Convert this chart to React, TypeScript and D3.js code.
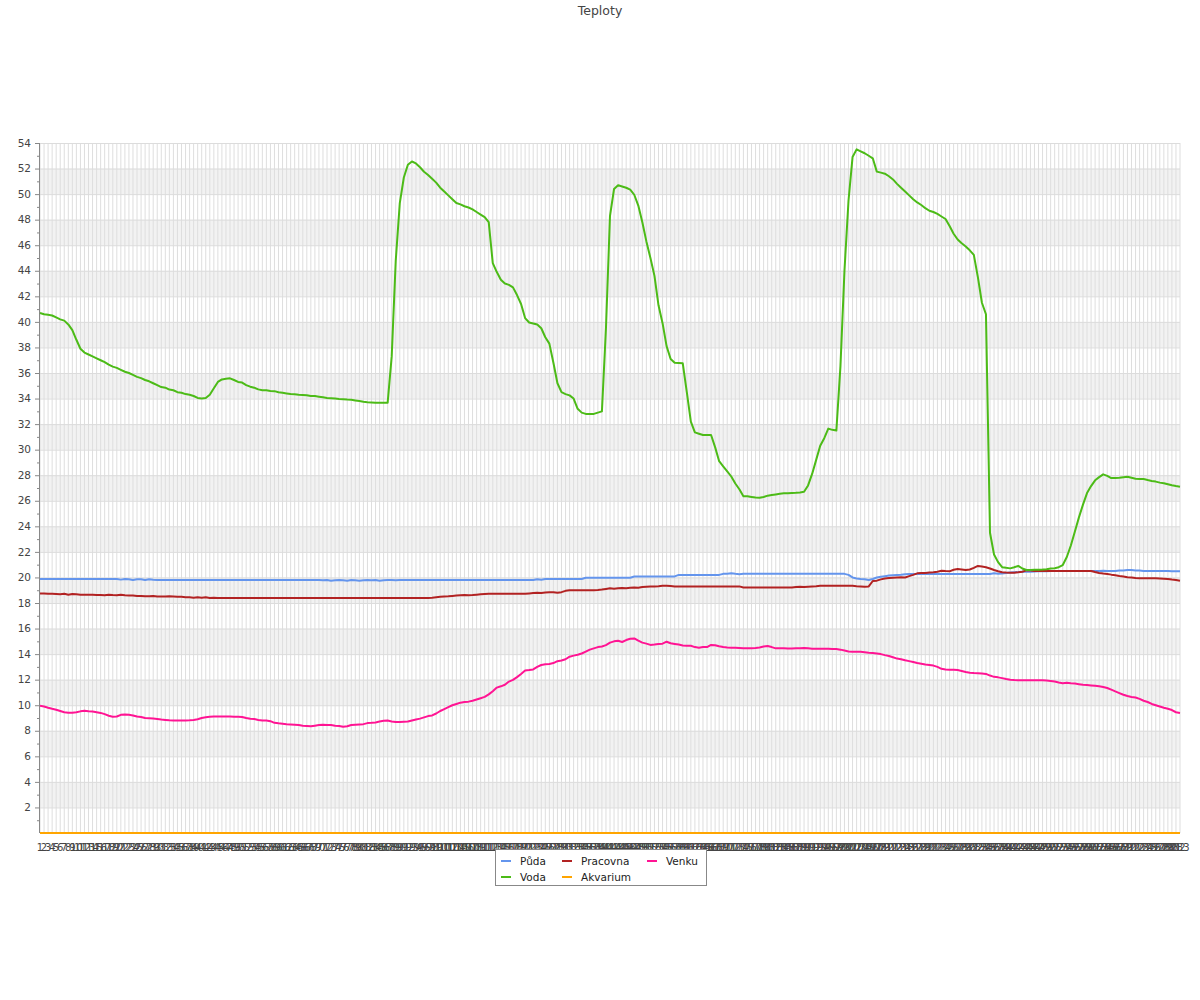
import React from "react";
import * as d3 from "d3";

const categories: string[] = Array.from({ length: 283 }, (_, i) => String(i + 1));

const puda: number[] = [
  19.88,19.88,19.88,19.88,19.88,19.88,19.88,19.88,19.88,19.88,
  19.88,19.88,19.88,19.88,19.88,19.88,19.88,19.88,19.88,19.88,
  19.83,19.88,19.85,19.8,19.85,19.85,19.8,19.85,19.82,19.8,
  19.8,19.8,19.8,19.8,19.8,19.8,19.8,19.8,19.8,19.8,
  19.8,19.8,19.8,19.8,19.8,19.8,19.8,19.8,19.8,19.8,
  19.8,19.8,19.8,19.8,19.8,19.8,19.8,19.8,19.8,19.8,
  19.8,19.8,19.8,19.8,19.8,19.8,19.8,19.8,19.8,19.8,
  19.78,19.8,19.75,19.78,19.8,19.78,19.75,19.8,19.78,19.75,
  19.78,19.8,19.78,19.8,19.75,19.78,19.8,19.8,19.78,19.8,
  19.8,19.8,19.8,19.8,19.8,19.8,19.8,19.8,19.8,19.8,
  19.8,19.8,19.8,19.8,19.8,19.8,19.8,19.8,19.8,19.8,
  19.8,19.8,19.8,19.8,19.8,19.8,19.8,19.8,19.8,19.8,
  19.8,19.8,19.8,19.85,19.82,19.88,19.88,19.88,19.88,19.88,
  19.88,19.88,19.88,19.88,19.88,19.98,19.98,19.98,19.98,19.98,
  19.98,19.98,19.98,19.98,19.98,19.98,19.98,20.08,20.08,20.08,
  20.08,20.08,20.08,20.08,20.08,20.08,20.08,20.08,20.2,20.2,
  20.2,20.2,20.2,20.2,20.2,20.2,20.2,20.2,20.2,20.28,
  20.28,20.32,20.28,20.25,20.28,20.28,20.28,20.28,20.28,20.28,
  20.28,20.28,20.28,20.28,20.28,20.28,20.28,20.28,20.28,20.28,
  20.28,20.28,20.28,20.28,20.28,20.28,20.28,20.28,20.28,20.28,
  20.2,20.0,19.92,19.88,19.85,19.8,19.88,20.0,20.05,20.1,
  20.15,20.18,20.2,20.22,20.25,20.27,20.27,20.27,20.27,20.27,
  20.27,20.27,20.27,20.27,20.27,20.27,20.27,20.27,20.27,20.27,
  20.27,20.27,20.27,20.27,20.27,20.27,20.32,20.28,20.3,20.35,
  20.38,20.4,20.42,20.45,20.45,20.45,20.47,20.48,20.48,20.48,
  20.5,20.5,20.5,20.5,20.5,20.5,20.5,20.5,20.5,20.5,
  20.5,20.5,20.5,20.52,20.5,20.5,20.5,20.55,20.55,20.58,
  20.58,20.55,20.55,20.5,20.5,20.5,20.5,20.5,20.5,20.5,
  20.48,20.48,20.48,
];

const voda: number[] = [
  40.7,40.6,40.55,40.5,40.35,40.2,40.1,39.8,39.35,38.6,
  37.9,37.6,37.45,37.3,37.15,37.0,36.85,36.65,36.5,36.4,
  36.25,36.1,36.0,35.85,35.7,35.6,35.45,35.35,35.2,35.05,
  34.9,34.85,34.7,34.65,34.5,34.45,34.35,34.3,34.2,34.05,
  34.0,34.05,34.3,34.8,35.3,35.5,35.55,35.58,35.45,35.3,
  35.25,35.05,34.93,34.85,34.72,34.65,34.65,34.6,34.58,34.5,
  34.45,34.4,34.35,34.33,34.3,34.28,34.25,34.2,34.2,34.15,
  34.1,34.05,34.03,34.0,33.97,33.95,33.92,33.9,33.85,33.8,
  33.75,33.72,33.7,33.68,33.68,33.68,33.68,37.3,44.8,49.3,
  51.3,52.3,52.55,52.4,52.1,51.75,51.5,51.2,50.9,50.5,
  50.2,49.9,49.6,49.3,49.2,49.05,48.95,48.8,48.6,48.4,
  48.2,47.8,44.6,43.9,43.3,43.0,42.9,42.7,42.1,41.4,
  40.3,39.95,39.88,39.8,39.5,38.8,38.3,36.8,35.2,34.5,
  34.35,34.25,34.0,33.2,32.9,32.8,32.8,32.8,32.9,33.0,
  39.5,48.3,50.4,50.7,50.6,50.5,50.35,49.95,49.1,47.8,
  46.3,45.0,43.6,41.3,39.9,38.1,37.1,36.8,36.78,36.76,
  34.5,32.2,31.35,31.25,31.15,31.15,31.15,30.2,29.1,28.7,
  28.3,27.9,27.35,26.9,26.35,26.35,26.3,26.25,26.24,26.3,
  26.4,26.45,26.5,26.55,26.58,26.58,26.6,26.62,26.65,26.7,
  27.2,28.1,29.2,30.3,30.9,31.65,31.55,31.5,36.5,44.0,
  49.5,52.9,53.5,53.35,53.2,53.0,52.8,51.76,51.68,51.6,
  51.4,51.15,50.8,50.5,50.2,49.9,49.6,49.35,49.15,48.9,
  48.7,48.6,48.45,48.25,48.05,47.5,46.9,46.45,46.15,45.9,
  45.6,45.25,43.5,41.5,40.6,23.5,21.8,21.2,20.8,20.75,
  20.71,20.8,20.9,20.7,20.58,20.58,20.6,20.6,20.62,20.65,
  20.7,20.72,20.8,20.97,21.6,22.5,23.6,24.7,25.7,26.6,
  27.15,27.6,27.85,28.07,27.95,27.78,27.78,27.8,27.85,27.88,
  27.8,27.72,27.7,27.7,27.62,27.55,27.5,27.42,27.37,27.3,
  27.22,27.15,27.1,
];

const pracovna: number[] = [
  18.75,18.75,18.72,18.72,18.7,18.68,18.72,18.65,18.7,18.68,
  18.65,18.65,18.65,18.65,18.62,18.62,18.6,18.65,18.62,18.6,
  18.65,18.6,18.58,18.58,18.55,18.55,18.52,18.52,18.55,18.5,
  18.5,18.5,18.52,18.5,18.48,18.48,18.45,18.45,18.42,18.45,
  18.42,18.45,18.4,18.42,18.4,18.4,18.4,18.4,18.4,18.4,
  18.4,18.4,18.4,18.4,18.4,18.4,18.4,18.4,18.4,18.4,
  18.4,18.4,18.4,18.4,18.4,18.4,18.4,18.4,18.4,18.4,
  18.4,18.4,18.4,18.4,18.4,18.4,18.4,18.4,18.4,18.4,
  18.4,18.4,18.4,18.4,18.4,18.4,18.4,18.4,18.4,18.4,
  18.4,18.4,18.4,18.4,18.4,18.4,18.4,18.42,18.45,18.48,
  18.5,18.52,18.55,18.58,18.6,18.62,18.6,18.62,18.65,18.68,
  18.7,18.72,18.72,18.72,18.72,18.72,18.72,18.72,18.72,18.72,
  18.72,18.75,18.78,18.8,18.78,18.82,18.85,18.85,18.8,18.85,
  18.95,19.0,19.0,19.0,19.0,19.0,19.0,19.0,19.02,19.05,
  19.1,19.15,19.12,19.15,19.18,19.15,19.2,19.22,19.2,19.25,
  19.28,19.3,19.3,19.32,19.35,19.35,19.33,19.3,19.3,19.3,
  19.3,19.3,19.3,19.3,19.3,19.3,19.3,19.3,19.3,19.3,
  19.3,19.3,19.3,19.3,19.22,19.22,19.22,19.22,19.22,19.22,
  19.22,19.22,19.22,19.22,19.22,19.22,19.22,19.25,19.28,19.25,
  19.28,19.3,19.32,19.35,19.35,19.35,19.35,19.35,19.35,19.35,
  19.35,19.35,19.32,19.3,19.28,19.3,19.72,19.75,19.85,19.92,
  19.95,19.98,20.0,20.02,20.0,20.1,20.2,20.32,20.35,20.35,
  20.38,20.4,20.45,20.53,20.5,20.48,20.6,20.66,20.62,20.58,
  20.62,20.75,20.9,20.85,20.8,20.7,20.58,20.48,20.4,20.38,
  20.37,20.37,20.4,20.45,20.55,20.55,20.5,20.5,20.5,20.5,
  20.5,20.5,20.5,20.5,20.5,20.5,20.5,20.5,20.5,20.5,
  20.5,20.42,20.35,20.3,20.27,20.22,20.18,20.12,20.08,20.02,
  20.0,19.95,19.93,19.93,19.93,19.93,19.93,19.92,19.9,19.87,
  19.83,19.8,19.75,
];

const akvarium: number[] = [
  0,0,0,0,0,0,0,0,0,0, 0,0,0,0,0,0,0,0,0,0, 0,0,0,0,0,0,0,0,0,0,
  0,0,0,0,0,0,0,0,0,0, 0,0,0,0,0,0,0,0,0,0, 0,0,0,0,0,0,0,0,0,0,
  0,0,0,0,0,0,0,0,0,0, 0,0,0,0,0,0,0,0,0,0, 0,0,0,0,0,0,0,0,0,0,
  0,0,0,0,0,0,0,0,0,0, 0,0,0,0,0,0,0,0,0,0, 0,0,0,0,0,0,0,0,0,0,
  0,0,0,0,0,0,0,0,0,0, 0,0,0,0,0,0,0,0,0,0, 0,0,0,0,0,0,0,0,0,0,
  0,0,0,0,0,0,0,0,0,0, 0,0,0,0,0,0,0,0,0,0, 0,0,0,0,0,0,0,0,0,0,
  0,0,0,0,0,0,0,0,0,0, 0,0,0,0,0,0,0,0,0,0, 0,0,0,0,0,0,0,0,0,0,
  0,0,0,0,0,0,0,0,0,0, 0,0,0,0,0,0,0,0,0,0, 0,0,0,0,0,0,0,0,0,0,
  0,0,0,0,0,0,0,0,0,0, 0,0,0,0,0,0,0,0,0,0, 0,0,0,0,0,0,0,0,0,0,
  0,0,0,0,0,0,0,0,0,0, 0,0,0,0,0,0,0,0,0,0, 0,0,0,
];

const venku: number[] = [
  9.96,9.9,9.8,9.72,9.65,9.55,9.45,9.42,9.42,9.45,
  9.52,9.57,9.52,9.5,9.45,9.4,9.3,9.18,9.1,9.12,
  9.25,9.28,9.25,9.2,9.12,9.08,9.0,8.98,8.96,8.92,
  8.88,8.85,8.82,8.8,8.8,8.8,8.8,8.82,8.85,8.9,
  9.0,9.05,9.1,9.12,9.12,9.12,9.12,9.12,9.1,9.1,
  9.08,9.0,8.95,8.92,8.85,8.8,8.8,8.75,8.62,8.58,
  8.55,8.52,8.5,8.48,8.45,8.4,8.38,8.35,8.4,8.45,
  8.48,8.45,8.45,8.4,8.38,8.32,8.35,8.45,8.48,8.5,
  8.52,8.6,8.62,8.65,8.72,8.78,8.8,8.72,8.68,8.68,
  8.7,8.72,8.8,8.88,8.95,9.05,9.15,9.2,9.35,9.55,
  9.7,9.85,10.0,10.1,10.2,10.25,10.28,10.35,10.45,10.55,
  10.65,10.85,11.1,11.38,11.48,11.6,11.85,11.98,12.2,12.45,
  12.72,12.75,12.8,13.0,13.15,13.2,13.22,13.3,13.45,13.5,
  13.6,13.8,13.88,13.95,14.05,14.2,14.35,14.45,14.55,14.6,
  14.7,14.9,15.0,15.05,14.95,15.1,15.2,15.23,15.05,14.9,
  14.82,14.72,14.75,14.8,14.82,14.97,14.85,14.8,14.75,14.68,
  14.65,14.65,14.55,14.5,14.55,14.55,14.72,14.7,14.62,14.55,
  14.52,14.5,14.5,14.48,14.45,14.45,14.45,14.48,14.52,14.6,
  14.63,14.55,14.45,14.45,14.45,14.43,14.43,14.45,14.45,14.48,
  14.45,14.42,14.42,14.42,14.42,14.42,14.4,14.4,14.35,14.28,
  14.2,14.18,14.18,14.18,14.15,14.11,14.08,14.05,14.0,13.92,
  13.85,13.75,13.65,13.6,13.52,13.45,13.38,13.3,13.25,13.18,
  13.15,13.1,13.0,12.85,12.8,12.78,12.78,12.75,12.68,12.6,
  12.55,12.52,12.5,12.48,12.45,12.32,12.22,12.18,12.12,12.05,
  12.0,11.97,11.95,11.95,11.95,11.95,11.95,11.95,11.95,11.93,
  11.9,11.85,11.78,11.72,11.75,11.72,11.7,11.65,11.6,11.58,
  11.55,11.52,11.48,11.42,11.35,11.22,11.08,10.95,10.82,10.72,
  10.65,10.6,10.5,10.35,10.25,10.1,10.0,9.9,9.8,9.72,
  9.62,9.45,9.4,
];

const yTicks: number[] = [2,4,6,8,10,12,14,16,18,20,22,24,26,28,30,32,34,36,38,40,42,44,46,48,50,52,54];
const yMinorTicks: number[] = [1,3,5,7,9,11,13,15,17,19,21,23,25,27,29,31,33,35,37,39,41,43,45,47,49,51,53];
const bands: number[][] = [[2,4],[6,8],[10,12],[14,16],[18,20],[22,24],[26,28],[30,32],[34,36],[38,40],[42,44],[46,48],[50,52]];

const series = [
  { name: "Půda", values: puda, color: "#6495ED" },
  { name: "Voda", values: voda, color: "#4CBB17" },
  { name: "Pracovna", values: pracovna, color: "#B22222" },
  { name: "Akvarium", values: akvarium, color: "#FFA500" },
  { name: "Venku", values: venku, color: "#FF1493" },
];

const drawOrder = ["Akvarium", "Půda", "Pracovna", "Venku", "Voda"];

export default function App() {
  const left = 40, right = 1180, top = 143, bottom = 833;
  const x = d3.scalePoint<string>().domain(categories).range([left, right]);
  const y = d3.scaleLinear().domain([0, 54]).range([bottom, top]);
  const line = d3
    .line<number>()
    .x((_, i) => x(categories[i]) as number)
    .y((d) => y(d));
  const font = "DejaVu Sans, Verdana, sans-serif";

  const legendItems = [
    { s: series[0], lx: 501, ly: 861 },
    { s: series[2], lx: 562, ly: 861 },
    { s: series[4], lx: 647, ly: 861 },
    { s: series[1], lx: 501, ly: 877 },
    { s: series[3], lx: 562, ly: 877 },
  ];

  return (
    <svg
      width={1200}
      height={1000}
      style={{ position: "absolute", left: 0, top: 0, background: "#fff" }}
      fontFamily={font}
    >
      <rect x={0} y={0} width={1200} height={1000} fill="#fff" />
      <text x={600} y={15} textAnchor="middle" fontSize={12.5} fill="#444">
        Teploty
      </text>
      {bands.map(([a, b]) => (
        <rect key={a} x={left} y={y(b)} width={right - left} height={y(a) - y(b)} fill="#f2f2f2" />
      ))}
      {categories.map((c) => (
        <line key={c} x1={x(c)} x2={x(c)} y1={top} y2={bottom} stroke="#dedede" strokeWidth={1} />
      ))}
      {yTicks.map((t) => (
        <line key={t} x1={left} x2={right} y1={y(t) + 0.5} y2={y(t) + 0.5} stroke="#dcdcdc" strokeWidth={1} />
      ))}
      <line x1={left - 0.5} x2={left - 0.5} y1={top} y2={bottom} stroke="#888" strokeWidth={1} />
      <line x1={left} x2={right} y1={bottom + 0.5} y2={bottom + 0.5} stroke="#888" strokeWidth={1} />
      {yTicks.map((t) => (
        <g key={t}>
          <line x1={left - 5} x2={left} y1={y(t) + 0.5} y2={y(t) + 0.5} stroke="#888" />
          <text x={31} y={y(t)} dy="0.35em" textAnchor="end" fontSize={10.5} fill="#444">
            {t}
          </text>
        </g>
      ))}
      {yMinorTicks.map((t) => (
        <line key={t} x1={left - 3} x2={left} y1={y(t) + 0.5} y2={y(t) + 0.5} stroke="#888" />
      ))}
      {categories.map((c) => (
        <text key={c} x={x(c)} y={851} textAnchor="middle" fontSize={10} fill="#444">
          {c}
        </text>
      ))}
      {drawOrder.map((n) => {
        const s = series.find((q) => q.name === n)!;
        return (
          <path
            key={n}
            d={line(s.values) || ""}
            fill="none"
            stroke={s.color}
            strokeWidth={2}
            strokeLinejoin="round"
          />
        );
      })}
      <rect x={495.5} y={849.5} width={211} height={36} fill="#fff" stroke="#888" />
      {legendItems.map(({ s, lx, ly }) => (
        <g key={s.name}>
          <line x1={lx} x2={lx + 10} y1={ly} y2={ly} stroke={s.color} strokeWidth={2} />
          <text x={lx + 19} y={ly} dy="0.35em" fontSize={10.5} fill="#222">
            {s.name}
          </text>
        </g>
      ))}
    </svg>
  );
}
